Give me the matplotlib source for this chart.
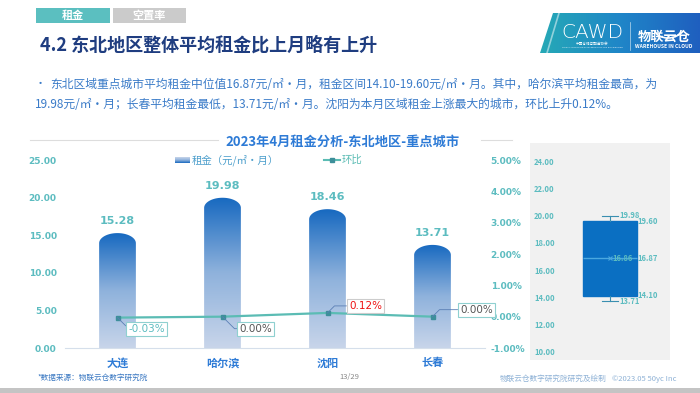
import numpy as np
import matplotlib
matplotlib.use("Agg")
import matplotlib.pyplot as plt
from matplotlib.path import Path
from matplotlib.patches import PathPatch, Rectangle, Polygon, Arc
from matplotlib.colors import LinearSegmentedColormap

plt.rcParams['font.family'] = ['Noto Sans CJK SC', 'DejaVu Sans']

# ---------------- data ----------------
cities = ['大连', '哈尔滨', '沈阳', '长春']
rent = [15.28, 19.98, 18.46, 13.71]
mom = [-0.03, 0.00, 0.12, 0.00]
left_ticks = [0, 5, 10, 15, 20, 25]
right_ticks = [-1, 0, 1, 2, 3, 4, 5]
box_ticks = [10, 12, 14, 16, 18, 20, 22, 24]

W, H = 700, 393
fig = plt.figure(figsize=(W / 100, H / 100), dpi=100)
fig.patch.set_facecolor('white')

NUMF = ['DejaVu Sans', 'Noto Sans CJK SC']

def fx(x):
    return x / W

def fy(y):
    return 1 - y / H

# background axes in pixel coords for decorations
bg = fig.add_axes([0, 0, 1, 1])
bg.set_xlim(0, W)
bg.set_ylim(H, 0)
bg.axis('off')

TEAL = '#5cbcc0'
BLUE_TXT = '#3a7bc8'

# tabs
bg.add_patch(Rectangle((36, 8), 74, 15, facecolor='#5bbfc0', edgecolor='none'))
bg.add_patch(Rectangle((113, 8), 73, 15, facecolor='#cbcbcb', edgecolor='none'))
bg.text(73, 15.5, '租金', color='white', fontsize=8, fontweight='bold', ha='center', va='center')
bg.text(149, 15.5, '空置率', color='white', fontsize=8, fontweight='bold', ha='center', va='center')

# title
bg.text(40, 45, '4.2 东北地区整体平均租金比上月略有上升', color='#1f3d80', fontsize=13,
        fontweight='heavy', ha='left', va='center')

# logo
logo = Polygon([(553, 13), (700, 13), (700, 53), (540, 53)], closed=True,
               facecolor='none', edgecolor='none')
bg.add_patch(logo)
lg = np.linspace(0, 1, 256).reshape(1, -1)
lcmap = LinearSegmentedColormap.from_list('logo', ['#26a9b6', '#1f86c8', '#1f5fbf'])
im = bg.imshow(lg, extent=[540, 700, 53, 13], cmap=lcmap, aspect='auto', zorder=1)
im.set_clip_path(logo)
bg.set_xlim(0, W)
bg.set_ylim(H, 0)
bg.plot([559, 547], [13, 53], color='white', lw=1.2, alpha=0.5, zorder=2)
bg.text(592, 32, 'CAWD', color='white', fontsize=14.5, family='DejaVu Sans', fontweight='light',
        ha='center', va='center', zorder=3)
bg.text(592, 44, '中国仓储与配送协会', color='white', fontsize=2.6, ha='center', va='center', zorder=3)
bg.text(592, 48, 'CHINA ASSOCIATION OF WAREHOUSES AND DISTRIBUTION', color='white',
        fontsize=1.6, ha='center', va='center', zorder=3)
bg.plot([630, 630], [22, 50], color='white', lw=0.5, alpha=0.7, zorder=3)
bg.add_patch(Arc((668, 30), 26, 16, theta1=0, theta2=180, color='white', lw=1.2, zorder=3))
bg.text(664, 37, '物联云仓', color='white', fontsize=9.5, fontweight='heavy', style='italic',
        ha='center', va='center', zorder=4)
bg.text(664, 47, 'WAREHOUSE IN CLOUD', color='white', fontsize=3.6, fontweight='bold',
        ha='center', va='center', zorder=3)

# body text
bg.text(35, 84, '•', color=BLUE_TXT, fontsize=8, ha='left', va='center')
bg.text(50, 84, '东北区域重点城市平均租金中位值16.87元/㎡·月，租金区间14.10-19.60元/㎡·月。其中，哈尔滨平均租金最高，为',
        color=BLUE_TXT, fontsize=8.5, ha='left', va='center')
bg.text(35, 105, '19.98元/㎡·月；长春平均租金最低，13.71元/㎡·月。沈阳为本月区域租金上涨最大的城市，环比上升0.12%。',
        color=BLUE_TXT, fontsize=8.5, ha='left', va='center')

# chart title and lines
bg.plot([30, 218], [140, 140], color='#dddddd', lw=0.8)
bg.plot([481, 512], [140, 140], color='#dddddd', lw=0.8)
bg.text(343, 142, '2023年4月租金分析-东北地区-重点城市', color='#2e7bd6', fontsize=9.5,
        fontweight='bold', ha='center', va='center')

# legend
lgrad = np.linspace(0, 1, 64).reshape(-1, 1)
bar_cmap = LinearSegmentedColormap.from_list('bar', ['#c8d5ea', '#8fb2dc', '#1769c0'])
bg.imshow(lgrad, extent=[175, 190, 163, 157], cmap=bar_cmap, aspect='auto', origin='upper', zorder=2)
bg.set_xlim(0, W)
bg.set_ylim(H, 0)
bg.text(192, 160, '租金（元/㎡·月）', color='#4d9fcc', fontsize=7.5, ha='left', va='center')
bg.plot([324, 340], [160, 160], color='#5bbcb4', lw=1.5)
bg.plot([332], [160], marker='s', ms=3, color='#3d8f9a')
bg.text(342, 160, '环比', color='#5bbcb4', fontsize=7.5, ha='left', va='center')

# footer
bg.text(37, 378, '*数据来源：物联云仓数字研究院', color='#3a78c2', fontsize=5.5, style='italic',
        ha='left', va='center')
bg.text(349, 377, '13/29', color='#888888', fontsize=5.5, ha='center', va='center')
bg.text(500, 379, '物联云仓数字研究院研究及绘制', color='#8fb2d6', fontsize=5.5, ha='left', va='center')
bg.text(612, 379, '©2023.05 50yc Inc', color='#8fb2d6', fontsize=5.5, ha='left', va='center')
bg.add_patch(Rectangle((0, 388), W, 5, facecolor='#c4c4c4', edgecolor='none'))

# ---------------- main chart ----------------
ax = fig.add_axes([fx(65), fy(348), fx(485) - fx(65), fy(160) - fy(348)])
ax.set_facecolor('none')
x = np.arange(len(cities))
bar_w = 0.35
cap_h = 1.35
for i, v in enumerate(rent):
    w = bar_w / 2
    t = np.linspace(np.pi, 0, 60)
    arc_x = x[i] + w * np.cos(t)
    arc_y = (v - cap_h) + cap_h * np.sin(t)
    verts = [(x[i] - w, 0)] + list(zip(arc_x, arc_y)) + [(x[i] + w, 0), (x[i] - w, 0)]
    patch = PathPatch(Path(verts), facecolor='none', edgecolor='none')
    ax.add_patch(patch)
    grad = np.linspace(0, 1, 256).reshape(-1, 1)
    bim = ax.imshow(grad, extent=[x[i] - w, x[i] + w, 0, v], origin='lower', cmap=bar_cmap,
                    aspect='auto', zorder=2)
    bim.set_clip_path(patch)
    ax.text(x[i], v + 0.9, f'{v:.2f}', color=TEAL, fontsize=8, fontweight='bold',
            family=NUMF, ha='center', va='bottom')

ax.set_xlim(-0.5, 3.5)
ax.set_ylim(0, 25)
ax.set_yticks(left_ticks)
ax.set_yticklabels([f'{t:.2f}' for t in left_ticks])
ax.set_xticks(x)
ax.set_xticklabels(cities)
for s in ['top', 'right', 'left']:
    ax.spines[s].set_visible(False)
ax.spines['bottom'].set_color('#d5dfeb')
ax.tick_params(axis='y', length=0, pad=6, labelsize=6.5, labelcolor=TEAL)
ax.tick_params(axis='x', length=0, pad=6, labelsize=8, labelcolor='#2e7bd6')
for lab in ax.get_yticklabels():
    lab.set_fontweight('bold')
    lab.set_family(NUMF)
for lab in ax.get_xticklabels():
    lab.set_fontweight('bold')

ax2 = ax.twinx()
ax2.set_ylim(-1, 5)
ax2.set_yticks(right_ticks)
ax2.set_yticklabels([f'{t:.2f}%' for t in right_ticks])
for s in ['top', 'right', 'left', 'bottom']:
    ax2.spines[s].set_visible(False)
ax2.tick_params(axis='y', length=0, pad=4, labelsize=6.5, labelcolor=TEAL)
for lab in ax2.get_yticklabels():
    lab.set_fontweight('bold')
    lab.set_family(NUMF)
ax2.plot(x, mom, color='#5bbcb4', lw=1.6, marker='s', ms=3.5, mfc='#3d8f9a', mec='#3d8f9a', zorder=5)

offsets = [(29, -11), (33, -12), (38, 7), (44, 7)]
angles = [-45, -45, 45, 45]
tcolors = [TEAL, '#555555', '#ee1111', '#555555']
bcolors = ['#8fd0d0', '#8fd0d0', '#cccccc', '#8fd0d0']
for i, m in enumerate(mom):
    ax2.annotate(f'{m:.2f}%', xy=(x[i], m), xytext=offsets[i], textcoords='offset pixels',
                 ha='center', va='center', fontsize=7.5, color=tcolors[i], family=NUMF,
                 bbox=dict(boxstyle='square,pad=0.2', fc='white', ec=bcolors[i], lw=0.8),
                 arrowprops=dict(arrowstyle='-', color='#5a7fb5', lw=0.6, relpos=(0, 0.5),
                                 connectionstyle=f'angle,angleA=0,angleB={angles[i]},rad=0',
                                 shrinkA=0, shrinkB=0),
                 zorder=6)

# ---------------- box plot panel ----------------
bx = fig.add_axes([fx(530), fy(360), fx(670) - fx(530), fy(143) - fy(360)])
bx.set_facecolor('#f1f1f1')
q1, med, q3 = np.percentile(rent, [25, 50, 75], method='weibull')
mean = float(np.mean(rent))
lo, hi = min(rent), max(rent)
stats = [dict(med=med, q1=q1, q3=q3, whislo=lo, whishi=hi, mean=mean, fliers=[])]
bx.bxp(stats, positions=[0.571], widths=0.386, showmeans=True, patch_artist=True,
       boxprops=dict(facecolor='#0a6fc2', edgecolor='#0a6fc2'),
       medianprops=dict(color='#4aa8e0', lw=1),
       whiskerprops=dict(color='#3a8fb0', lw=0.8),
       capprops=dict(color='#3a8fb0', lw=0.8), capwidths=0.12,
       meanprops=dict(marker='x', mec='#4aa8e0', ms=3, mew=0.8))
bx.set_xlim(0, 1)
bx.set_ylim(9.41, 25.32)
bx.set_xticks([])
bx.set_yticks(box_ticks)
bx.set_yticklabels([f'{t:.2f}' for t in box_ticks])
bx.tick_params(axis='y', length=0, pad=-3, labelsize=5.5, labelcolor=TEAL)
for lab in bx.get_yticklabels():
    lab.set_horizontalalignment('left')
    lab.set_fontweight('bold')
for s in bx.spines.values():
    s.set_visible(False)
lab_kw = dict(fontsize=5.5, color=TEAL, fontweight='bold', va='center', ha='left')
bx.text(0.64, hi, f'{hi:.2f}', **lab_kw)
bx.text(0.77, q3, f'{q3:.2f}', **lab_kw)
bx.text(0.59, mean, f'{mean:.2f}', **lab_kw)
bx.text(0.77, med, f'{med:.2f}', **lab_kw)
bx.text(0.77, q1, f'{q1:.2f}', **lab_kw)
bx.text(0.64, lo, f'{lo:.2f}', **lab_kw)

fig.savefig('out.png', dpi=100, facecolor='white')
